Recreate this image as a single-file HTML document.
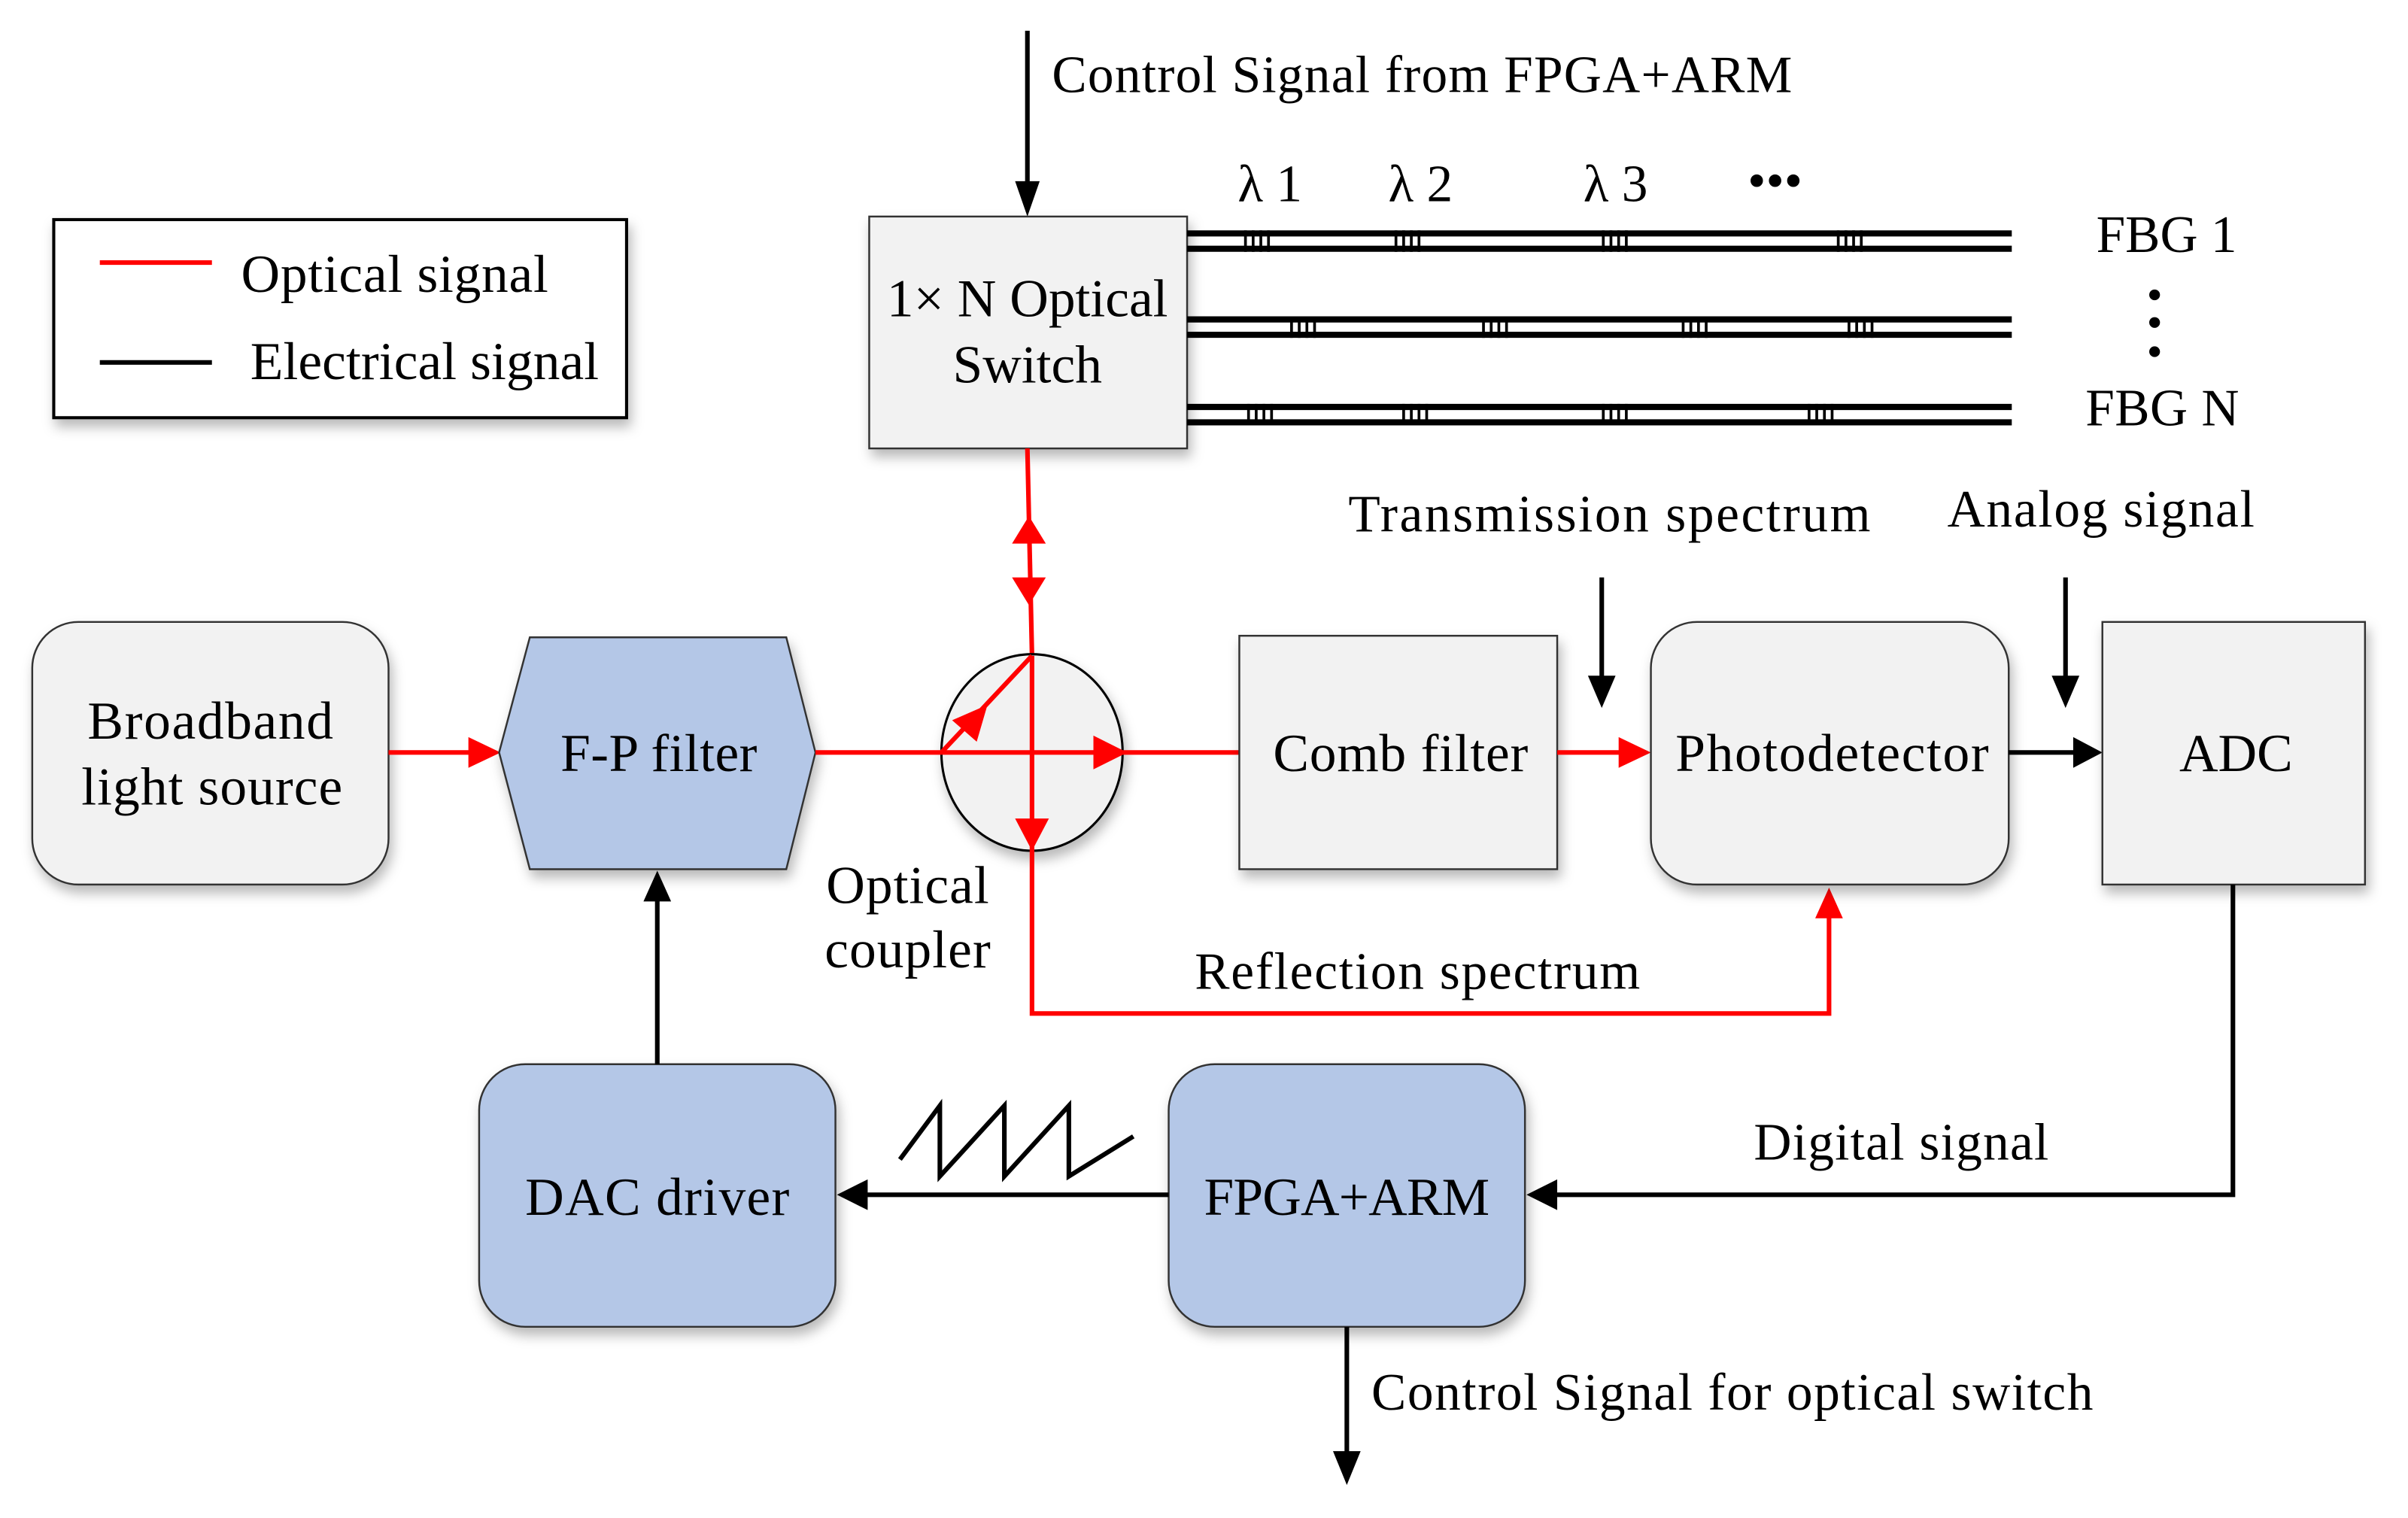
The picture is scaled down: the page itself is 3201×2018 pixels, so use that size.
<!DOCTYPE html>
<html><head><meta charset="utf-8"><style>html,body{margin:0;padding:0;background:#fff}svg{display:block}</style></head>
<body>
<svg width="3201" height="2018" viewBox="0 0 1568 988.5" xmlns="http://www.w3.org/2000/svg" font-family="'Liberation Serif', serif" font-size="34">
<defs>
<filter id="sh" x="-10%" y="-10%" width="130%" height="130%"><feDropShadow dx="2" dy="5" stdDeviation="4" flood-color="#000" flood-opacity="0.28"/></filter>
<g id="g1" stroke="#000" stroke-width="1.8"><line x1="1" y1="-2" x2="1" y2="12"/><line x1="6" y1="-2" x2="6" y2="12"/><line x1="11" y1="-2" x2="11" y2="12"/><line x1="16" y1="-2" x2="16" y2="12"/></g>
</defs>
<rect width="1568" height="988.5" fill="#fff"/>
<!-- legend -->
<rect x="35" y="143" width="373" height="129" fill="#fff" stroke="#000" stroke-width="2" filter="url(#sh)"/>
<line x1="65" y1="171" x2="138" y2="171" stroke="#f00" stroke-width="3"/>
<line x1="65" y1="236" x2="138" y2="236" stroke="#000" stroke-width="3"/>
<text x="157" y="190" font-size="35" textLength="200">Optical signal</text>
<text x="163" y="247" font-size="35" textLength="227">Electrical signal</text>
<!-- top control -->
<line x1="669" y1="20" x2="669" y2="122" stroke="#000" stroke-width="3"/>
<path d="M661,118 L677,118 L669,141z" fill="#000"/>
<text x="685" y="60" textLength="482">Control Signal from FPGA+ARM</text>
<!-- switch -->
<rect x="566" y="141" width="207" height="151" fill="#f2f2f2" stroke="#333" stroke-width="1.2" filter="url(#sh)"/>
<text x="669" y="206" text-anchor="middle" font-size="35">1× N Optical</text>
<text x="669" y="249" text-anchor="middle" font-size="35">Switch</text>
<!-- lambdas -->
<text x="806" y="131">λ 1</text>
<text x="904" y="131">λ 2</text>
<text x="1031" y="131">λ 3</text>
<text x="1138" y="129">•••</text>
<!-- fibers -->
<g stroke="#000" stroke-width="4">
<line x1="773" y1="152" x2="1310" y2="152"/><line x1="773" y1="162" x2="1310" y2="162"/>
<line x1="773" y1="208" x2="1310" y2="208"/><line x1="773" y1="218" x2="1310" y2="218"/>
<line x1="773" y1="265" x2="1310" y2="265"/><line x1="773" y1="275" x2="1310" y2="275"/>
</g>
<use href="#g1" x="810" y="152"/><use href="#g1" x="908" y="152"/><use href="#g1" x="1043" y="152"/><use href="#g1" x="1196" y="152"/>
<use href="#g1" x="840" y="208"/><use href="#g1" x="965" y="208"/><use href="#g1" x="1095" y="208"/><use href="#g1" x="1203" y="208"/>
<use href="#g1" x="812" y="265"/><use href="#g1" x="913" y="265"/><use href="#g1" x="1043" y="265"/><use href="#g1" x="1177" y="265"/>
<text x="1365" y="164">FBG 1</text>
<circle cx="1403" cy="192" r="3.5"/><circle cx="1403" cy="210" r="3.5"/><circle cx="1403" cy="229" r="3.5"/>
<text x="1358" y="277" textLength="100">FBG N</text>
<!-- red switch-coupler -->
<line x1="669" y1="292" x2="672" y2="427" stroke="#f00" stroke-width="3"/>
<path d="M659,354 L681,354 L670,336z" fill="#f00"/>
<path d="M659,376 L681,376 L670,394z" fill="#f00"/>
<!-- coupler -->
<ellipse cx="672" cy="490" rx="59" ry="64" fill="#f2f2f2" stroke="#000" stroke-width="1.5" filter="url(#sh)"/>
<!-- broadband -->
<rect x="21" y="405" width="232" height="171" rx="30" fill="#f2f2f2" stroke="#333" stroke-width="1.2" filter="url(#sh)"/>
<text x="137" y="481" text-anchor="middle" font-size="35" textLength="160">Broadband</text>
<text x="138" y="524" text-anchor="middle" font-size="35" textLength="170">light source</text>
<line x1="253" y1="490" x2="310" y2="490" stroke="#f00" stroke-width="3"/>
<path d="M305,480 L326,490 L305,500z" fill="#f00"/>
<!-- FP -->
<polygon points="345,415 512,415 531,490 512,566 345,566 325,490" fill="#b4c7e7" stroke="#333" stroke-width="1.2" filter="url(#sh)"/>
<text x="429" y="502" text-anchor="middle" font-size="35" textLength="128">F-P filter</text>
<!-- red main -->
<line x1="531" y1="490" x2="808" y2="490" stroke="#f00" stroke-width="3"/>
<path d="M712,479 L734,490 L712,501z" fill="#f00"/>
<line x1="613" y1="490" x2="672" y2="427" stroke="#f00" stroke-width="3"/>
<path d="M620,469 L643,459 L636,483z" fill="#f00"/>
<polyline points="672,427 672,660 1191,660 1191,590" fill="none" stroke="#f00" stroke-width="3"/>
<path d="M661,533 L683,533 L672,554z" fill="#f00"/>
<path d="M1182,598 L1200,598 L1191,578z" fill="#f00"/>
<text x="591" y="588" text-anchor="middle" font-size="35" textLength="106">Optical</text>
<text x="591" y="630" text-anchor="middle" font-size="35" textLength="108">coupler</text>
<!-- comb -->
<rect x="807" y="414" width="207" height="152" fill="#f2f2f2" stroke="#333" stroke-width="1.2" filter="url(#sh)"/>
<text x="912" y="502" text-anchor="middle" font-size="35" textLength="166">Comb filter</text>
<line x1="1014" y1="490" x2="1058" y2="490" stroke="#f00" stroke-width="3"/>
<path d="M1054,480 L1075,490 L1054,500z" fill="#f00"/>
<!-- photodetector -->
<rect x="1075" y="405" width="233" height="171" rx="30" fill="#f2f2f2" stroke="#333" stroke-width="1.2" filter="url(#sh)"/>
<text x="1193" y="502" text-anchor="middle" font-size="35" textLength="204">Photodetector</text>
<line x1="1308" y1="490" x2="1352" y2="490" stroke="#000" stroke-width="3"/>
<path d="M1350,480 L1369,490 L1350,500z" fill="#000"/>
<!-- ADC -->
<rect x="1369" y="405" width="171" height="171" fill="#f2f2f2" stroke="#333" stroke-width="1.2" filter="url(#sh)"/>
<text x="1456" y="502" text-anchor="middle" font-size="35">ADC</text>
<text x="878" y="346" textLength="340">Transmission spectrum</text>
<line x1="1043" y1="376" x2="1043" y2="444" stroke="#000" stroke-width="3"/><path d="M1034,440 L1052,440 L1043,461z"/>
<text x="1268" y="343" textLength="200">Analog signal</text>
<line x1="1345" y1="376" x2="1345" y2="444" stroke="#000" stroke-width="3"/><path d="M1336,440 L1354,440 L1345,461z"/>
<text x="778" y="644" textLength="290">Reflection spectrum</text>
<!-- ADC to FPGA -->
<polyline points="1454,576 1454,778 1012,778" fill="none" stroke="#000" stroke-width="3"/>
<path d="M1014,768 L994,778 L1014,788z"/>
<text x="1142" y="755" textLength="192">Digital signal</text>
<!-- FPGA -->
<rect x="761" y="693" width="232" height="171" rx="30" fill="#b4c7e7" stroke="#333" stroke-width="1.2" filter="url(#sh)"/>
<text x="877" y="791" text-anchor="middle" font-size="35" textLength="186">FPGA+ARM</text>
<line x1="761" y1="778" x2="562" y2="778" stroke="#000" stroke-width="3"/>
<path d="M565,768 L545,778 L565,788z"/>
<polyline points="586,755 612,720 612,766 654,720 654,766 696,720 696,766 738,740" fill="none" stroke="#000" stroke-width="3"/>
<!-- DAC -->
<rect x="312" y="693" width="232" height="171" rx="30" fill="#b4c7e7" stroke="#333" stroke-width="1.2" filter="url(#sh)"/>
<text x="428" y="791" text-anchor="middle" font-size="35" textLength="172">DAC driver</text>
<line x1="428" y1="693" x2="428" y2="584" stroke="#000" stroke-width="3"/>
<path d="M419,587 L437,587 L428,567z"/>
<line x1="877" y1="864" x2="877" y2="948" stroke="#000" stroke-width="3"/>
<path d="M868,945 L886,945 L877,967z"/>
<text x="893" y="918" textLength="470">Control Signal for optical switch</text>
</svg>
</body></html>
